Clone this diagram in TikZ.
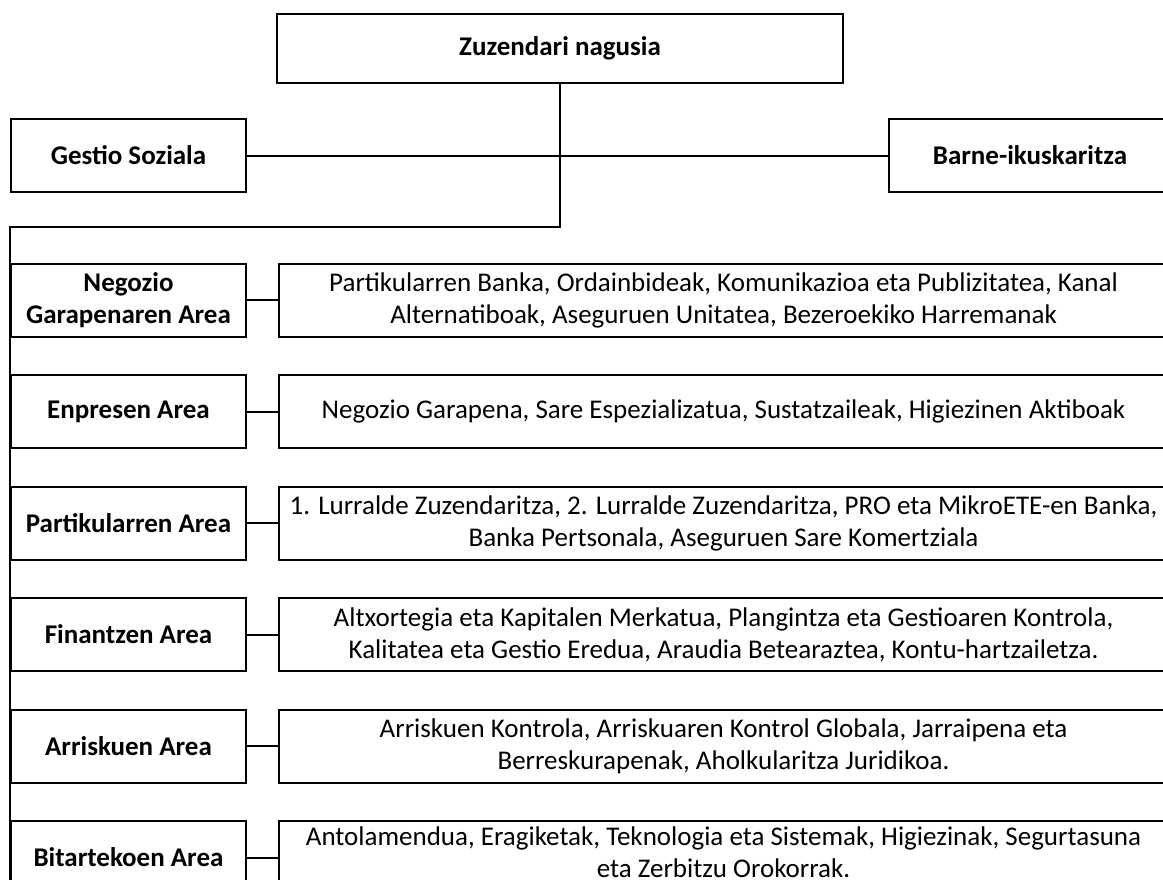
\documentclass[tikz,border=0pt]{standalone}
\usepackage{fontspec}
\setmainfont{Carlito}
\usetikzlibrary{positioning}

\begin{document}
\begin{tikzpicture}[
            x=1pt, y=-1pt,
            line width=2pt,
            box/.style={draw, rectangle, inner sep=0pt, align=center, font=\fontsize{27}{32}\selectfont},
            headbox/.style={box, font=\fontsize{27}{32}\selectfont\bfseries},
            areabox/.style={headbox, minimum width=235pt, minimum height=73pt},
            taskbox/.style={box, minimum width=889pt, minimum height=73pt}
        ]
        \clip (0, 0) rectangle (1163, 879);

        % Top level
        \node [headbox, minimum width=566pt, minimum height=69pt] (head) at (560, 48.5) {Zuzendari nagusia};
        \node [headbox, minimum width=235pt, minimum height=73pt] (gestio) at (128.5, 155.5) {Gestio Soziala};
        \node [headbox, minimum width=282pt, minimum height=73pt] (barne) at (1030, 155.5) {Barne-ikuskaritza};

        \draw (gestio.east) to (barne.west);

        % Areas
        \node [areabox] (negozio) at (128.5, 300) {Negozio\\Garapenaren Area};
        \node [areabox, below=36.5pt of negozio] (enpresen) {Enpresen Area};
        \node [areabox, below=36.5pt of enpresen] (partikular) {Partikularren Area};
        \node [areabox, below=36.5pt of partikular] (finantzen) {Finantzen Area};
        \node [areabox, below=36.5pt of finantzen] (arriskuen) {Arriskuen Area};
        \node [areabox, below=36.5pt of arriskuen] (bitarteko) {Bitartekoen Area};

        % Units of each area
        \node [taskbox, right=31pt of negozio] (negozio_t) {Partikularren Banka, Ordainbideak, Komunikazioa eta Publizitatea, Kanal\\Alternatiboak, Aseguruen Unitatea, Bezeroekiko Harremanak};
        \node [taskbox, right=31pt of enpresen] (enpresen_t) {Negozio Garapena, Sare Espezializatua, Sustatzaileak, Higiezinen Aktiboak};
        \node [taskbox, right=31pt of partikular] (partikular_t) {1. Lurralde Zuzendaritza, 2. Lurralde Zuzendaritza, PRO eta MikroETE-en Banka,\\Banka Pertsonala, Aseguruen Sare Komertziala};
        \node [taskbox, right=31pt of finantzen] (finantzen_t) {Altxortegia eta Kapitalen Merkatua, Plangintza eta Gestioaren Kontrola,\\Kalitatea eta Gestio Eredua, Araudia Betearaztea, Kontu-hartzailetza.};
        \node [taskbox, right=31pt of arriskuen] (arriskuen_t) {Arriskuen Kontrola, Arriskuaren Kontrol Globala, Jarraipena eta\\Berreskurapenak, Aholkularitza Juridikoa.};
        \node [taskbox, right=31pt of bitarteko, text depth=10pt] (bitarteko_t) {Antolamendua, Eragiketak, Teknologia eta Sistemak, Higiezinak, Segurtasuna\\eta Zerbitzu Orokorrak.};

        \draw (negozio.east) to (negozio_t.west);
        \draw (enpresen.east) to (enpresen_t.west);
        \draw (partikular.east) to (partikular_t.west);
        \draw (finantzen.east) to (finantzen_t.west);
        \draw (arriskuen.east) to (arriskuen_t.west);
        \draw (bitarteko.east) to (bitarteko_t.west);

        % Trunk
        \coordinate (trunk) at (negozio.west |- 0, 227);
        \draw (head.south) |- (trunk) to (trunk |- bitarteko.south);
    \end{tikzpicture}
\end{document}
